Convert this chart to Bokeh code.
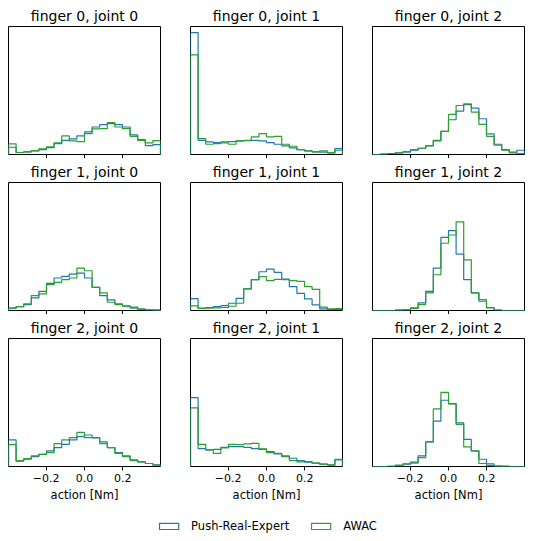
import numpy as np
from bokeh.plotting import figure
from bokeh.layouts import column, row
from bokeh.models import Range1d, FixedTicker, Legend, LegendItem
from bokeh.embed import file_html
from bokeh.resources import INLINE

# ---------------- data ----------------
TORQUE_MAX = 0.397          # action range [Nm]
N_BINS = 20
x_ticks = [-0.2, 0.0, 0.2]
x_tick_labels = ["−0.2", "0.0", "0.2"]
x_label = "action [Nm]"
series_names = ["Push-Real-Expert", "AWAC"]
series_colors = ["#1f77b4", "#2ca02c"]
titles = [["finger 0, joint 0", "finger 0, joint 1", "finger 0, joint 2"],
          ["finger 1, joint 0", "finger 1, joint 1", "finger 1, joint 2"],
          ["finger 2, joint 0", "finger 2, joint 1", "finger 2, joint 2"]]

# histogram densities (20 bins each)
f0j0_expert = [0.73, 0.20, 0.27, 0.37, 0.50, 0.70, 1.10, 1.43, 1.57, 1.87, 2.27, 2.77, 3.00, 3.10, 3.00, 2.77, 1.97, 1.50, 0.90, 1.00]
f0j0_awac   = [1.07, 0.20, 0.27, 0.40, 0.57, 0.77, 1.17, 1.87, 1.37, 1.30, 2.10, 2.57, 2.60, 3.20, 2.77, 2.60, 1.83, 1.43, 1.17, 1.40]
f0j1_expert = [12.27, 1.43, 1.27, 1.20, 1.27, 1.30, 1.37, 1.40, 1.43, 1.37, 1.20, 1.03, 0.87, 0.67, 0.50, 0.37, 0.27, 0.23, 0.17, 0.60]
f0j1_awac   = [10.03, 1.60, 1.03, 1.10, 1.17, 1.03, 1.37, 1.43, 1.77, 2.10, 1.77, 1.83, 1.03, 0.83, 0.50, 0.37, 0.27, 0.37, 0.17, 0.43]
f0j2_expert = [0.00, 0.03, 0.10, 0.17, 0.23, 0.43, 0.63, 0.90, 1.37, 2.33, 3.50, 4.37, 5.03, 4.67, 3.60, 2.07, 1.03, 0.50, 0.23, 0.43]
f0j2_awac   = [0.00, 0.03, 0.10, 0.17, 0.30, 0.50, 0.63, 0.87, 1.43, 2.33, 4.03, 4.93, 5.10, 4.27, 3.03, 1.83, 0.93, 0.43, 0.17, 0.10]
f1j0_expert = [0.23, 0.40, 0.60, 1.27, 1.93, 2.73, 3.27, 3.43, 3.67, 3.77, 3.27, 2.33, 1.50, 1.07, 0.67, 0.47, 0.33, 0.13, 0.07, 0.03]
f1j0_awac   = [0.23, 0.40, 0.67, 1.50, 1.67, 2.60, 2.83, 3.10, 3.27, 4.27, 4.00, 2.33, 1.77, 0.83, 0.60, 0.43, 0.23, 0.13, 0.07, 0.03]
f1j1_expert = [1.20, 0.23, 0.30, 0.40, 0.50, 0.73, 1.23, 2.17, 3.10, 3.90, 4.17, 3.83, 3.17, 2.40, 1.73, 1.17, 0.57, 0.17, 0.10, 0.10]
f1j1_awac   = [0.47, 0.20, 0.23, 0.27, 0.30, 0.43, 0.73, 2.17, 3.10, 3.40, 3.00, 3.13, 3.10, 3.00, 2.93, 2.40, 2.13, 0.33, 0.17, 0.20]
f1j2_expert = [0.00, 0.00, 0.00, 0.03, 0.07, 0.27, 0.77, 1.93, 4.27, 7.37, 8.03, 5.67, 3.10, 1.77, 0.93, 0.30, 0.05, 0.00, 0.00, 0.00]
f1j2_awac   = [0.00, 0.00, 0.00, 0.03, 0.07, 0.20, 0.60, 1.77, 3.60, 6.77, 7.60, 8.93, 5.10, 1.77, 1.10, 0.27, 0.05, 0.00, 0.00, 0.00]
f2j0_expert = [2.67, 0.53, 0.73, 1.00, 1.23, 1.57, 1.90, 2.23, 2.67, 3.00, 3.17, 2.90, 2.47, 1.90, 1.40, 1.07, 0.67, 0.47, 0.30, 0.17]
f2j0_awac   = [2.20, 0.60, 0.80, 1.07, 1.23, 1.40, 2.30, 2.67, 2.90, 3.43, 2.90, 2.87, 2.30, 1.90, 1.33, 1.00, 0.60, 0.47, 0.30, 0.13]
f2j1_expert = [6.93, 1.80, 1.67, 1.73, 1.93, 2.00, 2.00, 1.93, 1.80, 1.73, 1.50, 1.27, 1.07, 0.83, 0.60, 0.43, 0.33, 0.23, 0.17, 0.67]
f2j1_awac   = [5.90, 2.23, 1.67, 1.33, 1.87, 2.23, 2.20, 2.27, 2.33, 1.77, 1.40, 1.33, 1.00, 0.60, 0.47, 0.50, 0.33, 0.23, 0.13, 0.73]
f2j2_expert = [0.00, 0.00, 0.00, 0.07, 0.23, 0.45, 1.07, 2.47, 4.57, 6.67, 6.33, 4.40, 2.73, 1.57, 0.73, 0.27, 0.07, 0.03, 0.00, 0.00]
f2j2_awac   = [0.00, 0.00, 0.05, 0.13, 0.27, 0.33, 0.90, 2.47, 5.80, 7.47, 6.30, 4.23, 1.97, 1.57, 0.30, 0.10, 0.00, 0.00, 0.00, 0.00]

panel_data = [[(f0j0_expert, f0j0_awac), (f0j1_expert, f0j1_awac), (f0j2_expert, f0j2_awac)],
              [(f1j0_expert, f1j0_awac), (f1j1_expert, f1j1_awac), (f1j2_expert, f1j2_awac)],
              [(f2j0_expert, f2j0_awac), (f2j1_expert, f2j1_awac), (f2j2_expert, f2j2_awac)]]

# ---------------- drawing ----------------
FONT = "DejaVu Sans"
FRAME_W, FRAME_H = 152, 128
edges = np.linspace(-TORQUE_MAX, TORQUE_MAX, N_BINS + 1)
ymax = 1.05 * max(max(s) for r in panel_data for pair in r for s in pair)


def step_xy(h):
    xs = np.repeat(edges, 2)
    ys = np.concatenate([[0.0], np.repeat(np.asarray(h, float), 2), [0.0]])
    return xs, ys


border_lr = [(8, 15), (15, 15), (15, 1)]
border_top = [26, 22, 23]

rows = []
for i in range(3):
    figs = []
    for j in range(3):
        bl, br = border_lr[j]
        p = figure(frame_width=FRAME_W, frame_height=FRAME_H,
                   x_range=Range1d(-TORQUE_MAX, TORQUE_MAX), y_range=Range1d(0, ymax),
                   output_backend="svg", toolbar_location=None, y_axis_location=None,
                   min_border_left=bl, min_border_right=br,
                   min_border_top=border_top[i], min_border_bottom=0,
                   title=titles[i][j])
        p.title.align = "center"
        p.title.text_font = FONT
        p.title.text_font_size = "14px"
        p.title.text_font_style = "normal"
        p.title.text_color = "black"
        p.title.standoff = 6
        p.grid.visible = False
        p.outline_line_color = "black"
        p.outline_line_width = 1
        p.background_fill_color = "white"
        ax = p.xaxis[0]
        ax.ticker = FixedTicker(ticks=x_ticks)
        ax.axis_line_color = None
        ax.minor_tick_line_color = None
        ax.major_tick_out = 4
        ax.major_tick_in = 0
        ax.major_tick_line_color = "black"
        ax.major_label_text_font = FONT
        ax.major_label_text_color = "black"
        if i == 2:
            ax.major_label_overrides = dict(zip(x_ticks, x_tick_labels))
            ax.major_label_text_font_size = "11px"
            ax.major_label_standoff = 3
            ax.axis_label = x_label
            ax.axis_label_text_font = FONT
            ax.axis_label_text_font_size = "11.5px"
            ax.axis_label_text_font_style = "normal"
            ax.axis_label_text_color = "black"
            ax.axis_label_standoff = 3
        else:
            ax.major_label_overrides = {t: "" for t in x_ticks}
            ax.major_label_text_font_size = "0px"
            ax.major_label_standoff = 0
        for h, c in zip(panel_data[i][j], series_colors):
            xs, ys = step_xy(h)
            p.line(xs, ys, line_color=c, line_width=1.2)
        figs.append(p)
    rows.append(row(*figs))

# legend strip (patches are off-screen NaN quads so only their legend swatches show)
leg = figure(width=525, height=30, x_range=Range1d(0, 1), y_range=Range1d(0, 1),
             output_backend="svg", toolbar_location=None, min_border=0,
             min_border_left=8, x_axis_location=None, y_axis_location=None)
leg.outline_line_color = None
leg.grid.visible = False
items = []
for name, c in zip(series_names, series_colors):
    r = leg.quad(left=[np.nan], right=[np.nan], top=[np.nan], bottom=[np.nan],
                 fill_color=None, line_color=c, line_width=1.2)
    items.append(LegendItem(label=name, renderers=[r]))
legend = Legend(items=items, orientation="horizontal", location="bottom",
                glyph_width=24, glyph_height=8, label_height=8, label_standoff=11,
                spacing=19, padding=0, margin=1, border_line_color=None,
                background_fill_alpha=0, label_text_font=FONT,
                label_text_font_size="11.5px", label_text_color="black")
leg.add_layout(legend, "center")

layout = column(*rows, leg)
open("out.html", "w").write(file_html(layout, INLINE))
